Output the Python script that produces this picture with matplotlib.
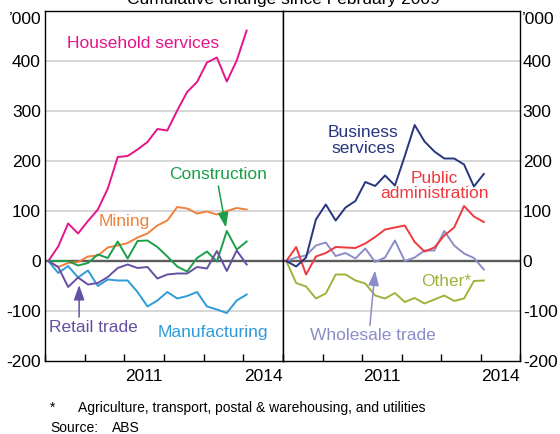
import matplotlib
matplotlib.use('Agg')
import matplotlib.pyplot as plt
import pandas as pd

plt.rcParams['font.family'] = ['Liberation Sans', 'DejaVu Sans']

# ---- data (thousands, cumulative change since Feb 2009, quarterly) ----
dates = pd.date_range('2009-02-01', periods=21, freq='3MS')
years = list(dates.year + (dates.month - 1) / 12.0)

household = [0, 29, 75, 55, 80, 103, 145, 208, 210, 223, 238, 264, 261, 301,
             338, 358, 397, 407, 359, 401, 461]
mining = [0, -12, -4, -2, 9, 11, 27, 31, 36, 47, 55, 71, 81, 108, 105, 95, 99,
          93, 100, 106, 103]
construction = [0, 0, 0, -9, -4, 13, 6, 39, 5, 40, 41, 28, 9, -11, -21, 6, 19,
                -1, 60, 23, 39]
retail = [0, -12, -52, -33, -47, -44, -32, -14, -7, -14, -12, -35, -27, -25,
          -25, -12, -15, 20, -20, 21, -7]
manufacturing = [0, -24, -10, -33, -19, -50, -37, -39, -39, -62, -91, -79, -62,
                 -75, -70, -62, -91, -97, -104, -79, -67]

business = [0, -11, 7, 83, 113, 81, 107, 120, 158, 150, 171, 151, 210, 272,
            239, 219, 205, 205, 193, 149, 174]
public_admin = [0, 28, -27, 9, 16, 28, 27, 26, 35, 48, 63, 67, 71, 38, 19, 27,
                51, 67, 110, 89, 78]
wholesale = [0, 7, 11, 31, 37, 10, 16, 5, 25, -2, 7, 41, 0, 7, 21, 21, 60, 31,
             15, 6, -17]
other = [0, -44, -51, -75, -65, -27, -27, -39, -45, -69, -75, -64, -82, -74,
         -85, -77, -69, -80, -75, -40, -39]

ytick_vals = [-200, -100, 0, 100, 200, 300, 400]
ytick_labels = ['-200', '-100', '0', '100', '200', '300', '400']
year_ticks = [2009, 2010, 2011, 2012, 2013, 2014, 2015]
year_labels = ['2011', '2014']
year_label_pos = [2011.5, 2014.5]

# ---- colours ----
C_HH = '#e6138a'
C_MIN = '#f0813a'
C_CON = '#1c9e4a'
C_RET = '#6650a3'
C_MAN = '#2f9bd9'
C_BUS = '#27357e'
C_PUB = '#ee3a3f'
C_WHO = '#8b8dc6'
C_OTH = '#9db43b'

FS = 12.5
FN = 10
W, H = 560, 434
fig = plt.figure(figsize=(W / 100, H / 100), dpi=100)

ax1 = fig.add_axes([45 / W, 1 - 361 / H, 238 / W, 350 / H])
ax2 = fig.add_axes([283 / W, 1 - 361 / H, 237 / W, 350 / H])

for ax in (ax1, ax2):
    ax.set_xlim(2009, 2015)
    ax.set_ylim(-200, 500)
    for v in [-100, 100, 200, 300, 400]:
        ax.axhline(v, color='#d4d4d4', lw=1.3, zorder=0)
    ax.axhline(0, color='#5c5c5c', lw=1.7, zorder=1)
    for s in ax.spines.values():
        s.set_color('black')
        s.set_linewidth(1.0)
    ax.set_xticks(year_ticks)
    ax.set_xticklabels([''] * len(year_ticks))
    ax.tick_params(axis='x', which='major', direction='in', length=5,
                   width=1.0, color='black')
    ax.set_xticks(year_label_pos, minor=True)
    ax.set_xticklabels(year_labels, minor=True, fontsize=FS)
    ax.tick_params(axis='x', which='minor', length=0, pad=6)
    ax.set_yticks(ytick_vals)
    ax.set_yticklabels(ytick_labels, fontsize=FS)
    ax.tick_params(axis='y', length=0, pad=3)

ax2.yaxis.tick_right()
ax2.tick_params(axis='y', length=0, pad=2)

lw = 1.4
ax1.plot(years, household, color=C_HH, lw=lw, zorder=3)
ax1.plot(years, mining, color=C_MIN, lw=lw, zorder=3)
ax1.plot(years, construction, color=C_CON, lw=lw, zorder=3)
ax1.plot(years, manufacturing, color=C_MAN, lw=lw, zorder=3)
ax1.plot(years, retail, color=C_RET, lw=lw, zorder=3)

ax2.plot(years, other, color=C_OTH, lw=lw, zorder=3)
ax2.plot(years, wholesale, color=C_WHO, lw=lw, zorder=3)
ax2.plot(years, public_admin, color=C_PUB, lw=lw, zorder=3)
ax2.plot(years, business, color=C_BUS, lw=lw, zorder=3)

# ---- labels ----
ax1.text(2009.56, 435, 'Household services', color=C_HH, fontsize=FS,
         ha='left', va='center')
ax1.text(2010.36, 79, 'Mining', color=C_MIN, fontsize=FS, ha='left',
         va='center')
ax1.text(2013.37, 173, 'Construction', color=C_CON, fontsize=FS,
         ha='center', va='center')
ax1.text(2009.1, -132, 'Retail trade', color=C_RET, fontsize=FS, ha='left',
         va='center')
ax1.text(2013.23, -142, 'Manufacturing', color=C_MAN, fontsize=FS,
         ha='center', va='center')

ap = dict(arrowstyle='-|>,head_length=0.9,head_width=0.32',
          mutation_scale=10, lw=1.1, shrinkA=0, shrinkB=0)
ax1.annotate('', xy=(2013.56, 67), xytext=(2013.37, 150),
             arrowprops=dict(color=C_CON, **ap), zorder=4)
ax1.annotate('', xy=(2009.86, -48), xytext=(2009.86, -112),
             arrowprops=dict(color=C_RET, **ap), zorder=4)

ax2.text(2011.03, 241, 'Business\nservices', color=C_BUS, fontsize=FS,
         ha='center', va='center', linespacing=1.05)
ax2.text(2012.83, 150, 'Public\nadministration', color=C_PUB, fontsize=FS,
         ha='center', va='center', linespacing=1.05)
ax2.text(2011.28, -149, 'Wholesale trade', color=C_WHO, fontsize=FS,
         ha='center', va='center')
ax2.text(2013.13, -42, 'Other*', color=C_OTH, fontsize=FS, ha='center',
         va='center')
ax2.annotate('', xy=(2011.33, -19), xytext=(2011.20, -129),
             arrowprops=dict(color=C_WHO, **ap), zorder=4)

# unit labels
ax1.text(-3 / 238, 1 - 9 / 350, '\u2019000', transform=ax1.transAxes,
         ha='right', va='center', fontsize=FS)
ax2.text(1 + 2 / 237, 1 - 9 / 350, '\u2019000', transform=ax2.transAxes,
         ha='left', va='center', fontsize=FS)

# title (partly clipped at top, as in the reference)
fig.text(283 / W, 1 - 4 / H, 'Cumulative change since February 2009',
         ha='center', va='baseline', fontsize=FS)

# notes
fig.text(50 / W, 1 - 408 / H, '*', ha='left', va='center', fontsize=FN)
fig.text(78 / W, 1 - 408 / H,
         'Agriculture, transport, postal & warehousing, and utilities',
         ha='left', va='center', fontsize=FN)
fig.text(50 / W, 1 - 428 / H, 'Source:', ha='left', va='center', fontsize=FN)
fig.text(112 / W, 1 - 428 / H, 'ABS', ha='left', va='center', fontsize=FN)

fig.savefig('out.png', dpi=100)
